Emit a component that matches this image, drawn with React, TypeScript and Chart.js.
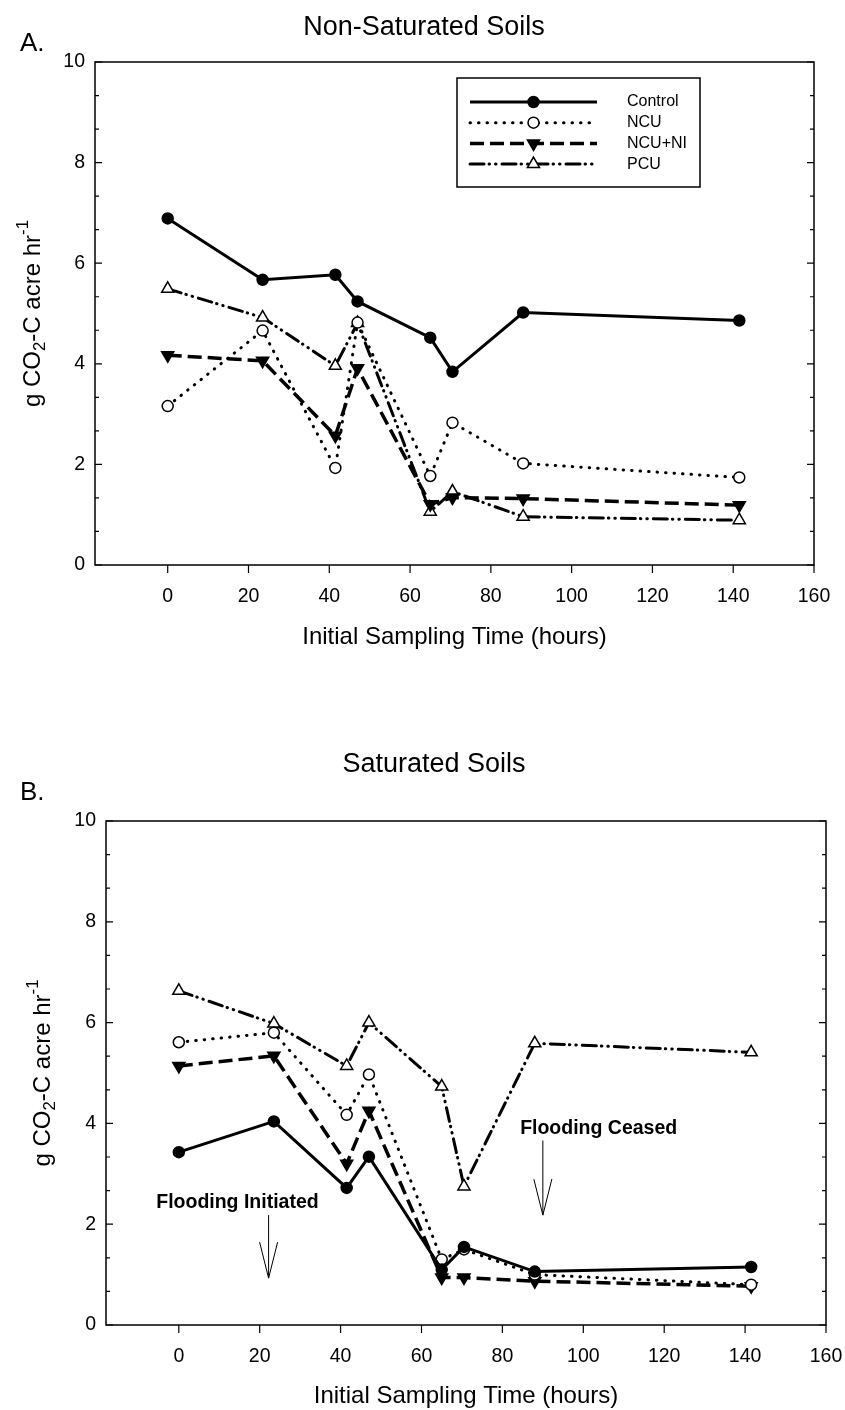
import React, { useEffect, useRef } from "react";
import { Chart, registerables } from "chart.js";
Chart.register(...registerables);

// ---------- data ----------
const seriesLabels = ["Control", "NCU", "NCU+NI", "PCU"];

const timesA = [0, 23.5, 41.5, 47, 65, 70.5, 88, 141.5];
const controlA = [6.89, 5.67, 5.77, 5.24, 4.52, 3.84, 5.02, 4.86];
const ncuA = [3.16, 4.66, 1.93, 4.82, 1.77, 2.83, 2.02, 1.74];
const ncuNiA = [4.17, 4.06, 2.57, 3.91, 1.21, 1.34, 1.32, 1.19];
const pcuA = [5.49, 4.92, 3.96, 4.81, 1.06, 1.46, 0.96, 0.89];

const timesB = [0, 23.5, 41.5, 47, 65, 70.5, 88, 141.5];
const controlB = [3.43, 4.04, 2.72, 3.34, 1.1, 1.55, 1.06, 1.15];
const ncuB = [5.61, 5.8, 4.17, 4.97, 1.3, 1.5, 1.0, 0.8];
const ncuNiB = [5.14, 5.34, 3.2, 4.25, 0.94, 0.94, 0.87, 0.77];
const pcuB = [6.63, 5.98, 5.14, 6.0, 4.73, 2.75, 5.59, 5.41];

const xTicks = [0, 20, 40, 60, 80, 100, 120, 140, 160];
const yTicks = [0, 2, 4, 6, 8, 10];
const xRange = [-18, 160];

const notesB = [
  { text: "Flooding Initiated", x: 14.5, y: 2.43, arrowX: 22.2, arrowTop: 2.18, arrowTip: 0.93 },
  { text: "Flooding Ceased", x: 103.8, y: 3.9, arrowX: 90, arrowTop: 3.66, arrowTip: 2.18 },
];

const FONT = '"Liberation Sans", Arial, Helvetica, sans-serif';

const styles = [
  { borderDash: [], cap: "butt", width: 3, point: "circle", fill: "#000", radius: 5.5, rot: 0 },
  { borderDash: [0.5, 8], cap: "round", width: 3, point: "circle", fill: "#fff", radius: 5.5, rot: 0 },
  { borderDash: [14, 6], cap: "butt", width: 3.5, point: "triangle", fill: "#000", radius: 7, rot: 180 },
  { borderDash: [14, 5, 0.5, 6, 0.5, 6], cap: "round", width: 3, point: "triangle", fill: "#fff", radius: 7, rot: 0 },
];

function makeDatasets(times: number[], series: number[][]) {
  return series.map((vals, i) => {
    const s = styles[i];
    return {
      label: seriesLabels[i],
      data: vals.map((v, j) => ({ x: times[j], y: v })),
      borderColor: "#000",
      borderWidth: s.width,
      borderDash: s.borderDash,
      borderCapStyle: s.cap,
      tension: 0,
      fill: false,
      pointStyle: s.point,
      pointRotation: s.rot,
      pointRadius: s.radius,
      pointHoverRadius: s.radius,
      pointBackgroundColor: s.fill,
      pointBorderColor: "#000",
      pointBorderWidth: 1.5,
    };
  });
}

function drawMarker(ctx: CanvasRenderingContext2D, i: number, x: number, y: number) {
  const s = styles[i];
  ctx.save();
  ctx.setLineDash([]);
  ctx.lineWidth = 1.5;
  ctx.strokeStyle = "#000";
  ctx.fillStyle = s.fill;
  ctx.beginPath();
  if (s.point === "circle") {
    ctx.arc(x, y, s.radius, 0, Math.PI * 2);
  } else {
    let rad = (s.rot * Math.PI) / 180;
    const r = s.radius;
    ctx.moveTo(x + Math.sin(rad) * r, y - Math.cos(rad) * r);
    rad += (2 * Math.PI) / 3;
    ctx.lineTo(x + Math.sin(rad) * r, y - Math.cos(rad) * r);
    rad += (2 * Math.PI) / 3;
    ctx.lineTo(x + Math.sin(rad) * r, y - Math.cos(rad) * r);
    ctx.closePath();
  }
  ctx.fill();
  ctx.stroke();
  ctx.restore();
}

function drawYTitle(ctx: CanvasRenderingContext2D, x: number, cy: number, size: number) {
  const parts = [
    { t: "g CO", s: 1, dy: 0 },
    { t: "2", s: 0.7, dy: 0.32 },
    { t: "-C acre hr", s: 1, dy: 0 },
    { t: "-1", s: 0.7, dy: -0.42 },
  ];
  ctx.save();
  ctx.translate(x, cy);
  ctx.rotate(-Math.PI / 2);
  ctx.fillStyle = "#000";
  ctx.textBaseline = "middle";
  ctx.textAlign = "left";
  const widths = parts.map((p) => {
    ctx.font = `${size * p.s}px ${FONT}`;
    return ctx.measureText(p.t).width;
  });
  const total = widths.reduce((a, b) => a + b, 0);
  let px = -total / 2;
  parts.forEach((p, i) => {
    ctx.font = `${size * p.s}px ${FONT}`;
    ctx.fillText(p.t, px, p.dy * size);
    px += widths[i];
  });
  ctx.restore();
}

type PanelCfg = {
  key: string;
  height: number;
  top: number;
  padTop: number;
  padRight: number;
  yWidth: number;
  xHeight: number;
  letter: string;
  letterPos: [number, number];
  title: string;
  titlePos: [number, number];
  xTitleY: number;
  yTitleX: number;
  legend: boolean;
  notes: typeof notesB;
  times: number[];
  series: number[][];
};

const panels: PanelCfg[] = [
  {
    key: "A", height: 700, top: 0, padTop: 62, padRight: 31, yWidth: 95, xHeight: 135,
    letter: "A.", letterPos: [20, 44], title: "Non-Saturated Soils", titlePos: [424, 28],
    xTitleY: 637, yTitleX: 33, legend: true, notes: [],
    times: timesA, series: [controlA, ncuA, ncuNiA, pcuA],
  },
  {
    key: "B", height: 710, top: 700, padTop: 121, padRight: 19, yWidth: 106, xHeight: 85,
    letter: "B.", letterPos: [20, 93], title: "Saturated Soils", titlePos: [434, 65],
    xTitleY: 696, yTitleX: 43, legend: false, notes: notesB,
    times: timesB, series: [controlB, ncuB, ncuNiB, pcuB],
  },
];

function framePlugin(p: PanelCfg) {
  return {
    id: "frame" + p.key,
    beforeDatasetsDraw(chart: any) {
      const { ctx, chartArea: a, scales } = chart;
      const x = scales.x, y = scales.y;
      ctx.save();
      ctx.strokeStyle = "#000";
      ctx.lineWidth = 1.5;
      ctx.strokeRect(a.left, a.top, a.right - a.left, a.bottom - a.top);
      ctx.lineWidth = 1.2;
      ctx.beginPath();
      for (let k = 0; k < yTicks.length; k++) {
        const v0 = yTicks[k];
        const subs = k < yTicks.length - 1 ? [0, 1 / 3, 2 / 3] : [0];
        const step = k < yTicks.length - 1 ? yTicks[k + 1] - v0 : 0;
        subs.forEach((f, si) => {
          const py = y.getPixelForValue(v0 + f * step);
          const len = si === 0 ? 7 : 4;
          ctx.moveTo(a.left, py);
          ctx.lineTo(a.left + len, py);
          ctx.moveTo(a.right, py);
          ctx.lineTo(a.right - len, py);
        });
      }
      for (const v of xTicks) {
        const px = x.getPixelForValue(v);
        ctx.moveTo(px, a.bottom);
        ctx.lineTo(px, a.bottom + 8);
      }
      ctx.stroke();
      ctx.restore();
    },
    afterDraw(chart: any) {
      const { ctx, chartArea: a, scales } = chart;
      const x = scales.x, y = scales.y;
      ctx.save();
      ctx.fillStyle = "#000";
      ctx.textBaseline = "middle";
      ctx.font = `26px ${FONT}`;
      ctx.textAlign = "left";
      ctx.fillText(p.letter, p.letterPos[0], p.letterPos[1]);
      ctx.font = `27px ${FONT}`;
      ctx.textAlign = "center";
      ctx.fillText(p.title, p.titlePos[0], p.titlePos[1]);
      ctx.font = `24px ${FONT}`;
      ctx.fillText("Initial Sampling Time (hours)", (a.left + a.right) / 2, p.xTitleY);
      drawYTitle(ctx, p.yTitleX, (a.top + a.bottom) / 2, 24);

      if (p.legend) {
        const bx = 457, by = 78, bw = 243, bh = 109;
        ctx.fillStyle = "#fff";
        ctx.fillRect(bx, by, bw, bh);
        ctx.strokeStyle = "#000";
        ctx.lineWidth = 1.5;
        ctx.strokeRect(bx, by, bw, bh);
        chart.data.datasets.forEach((ds: any, i: number) => {
          const ry = 102 + i * 20.7;
          ctx.save();
          ctx.strokeStyle = "#000";
          ctx.lineWidth = ds.borderWidth;
          ctx.setLineDash(ds.borderDash);
          ctx.lineCap = ds.borderCapStyle;
          ctx.beginPath();
          ctx.moveTo(470, ry);
          ctx.lineTo(597, ry);
          ctx.stroke();
          ctx.restore();
          drawMarker(ctx, i, 533.5, ry);
          ctx.fillStyle = "#000";
          ctx.font = `16px ${FONT}`;
          ctx.textAlign = "left";
          ctx.textBaseline = "middle";
          ctx.fillText(ds.label, 627, ry);
        });
      }

      p.notes.forEach((n) => {
        ctx.fillStyle = "#000";
        ctx.font = `bold 19.5px ${FONT}`;
        ctx.textAlign = "center";
        ctx.textBaseline = "middle";
        ctx.fillText(n.text, x.getPixelForValue(n.x), y.getPixelForValue(n.y));
        const ax = x.getPixelForValue(n.arrowX);
        const yTop = y.getPixelForValue(n.arrowTop);
        const yTip = y.getPixelForValue(n.arrowTip);
        ctx.strokeStyle = "#000";
        ctx.lineWidth = 1;
        ctx.beginPath();
        ctx.moveTo(ax, yTop);
        ctx.lineTo(ax, yTip);
        ctx.moveTo(ax - 9, yTip - 36);
        ctx.lineTo(ax, yTip);
        ctx.lineTo(ax + 9, yTip - 36);
        ctx.stroke();
      });
      ctx.restore();
    },
  };
}

function Panel({ cfg }: { cfg: PanelCfg }) {
  const ref = useRef<HTMLCanvasElement>(null);
  useEffect(() => {
    if (!ref.current) return;
    const tickFont = { family: FONT, size: 19.5 };
    const chart = new Chart(ref.current, {
      type: "line",
      data: { datasets: makeDatasets(cfg.times, cfg.series) as any },
      options: {
        animation: false,
        responsive: false,
        devicePixelRatio: 1,
        layout: { padding: { top: cfg.padTop, right: cfg.padRight, left: 0, bottom: 0 } },
        plugins: {
          legend: { display: false },
          tooltip: { enabled: false },
          title: { display: false },
        },
        scales: {
          x: {
            type: "linear",
            min: xRange[0],
            max: xRange[1],
            afterBuildTicks: (s: any) => {
              s.ticks = xTicks.map((v) => ({ value: v }));
            },
            afterFit: (s: any) => {
              s.height = cfg.xHeight;
              s.paddingLeft = 0;
              s.paddingRight = 0;
            },
            grid: { display: false, drawTicks: false },
            border: { display: false },
            ticks: {
              font: tickFont,
              color: "#000",
              padding: 20,
              maxRotation: 0,
              autoSkip: false,
              callback: (v: any) => String(v),
            },
          },
          y: {
            type: "linear",
            min: 0,
            max: 10,
            afterBuildTicks: (s: any) => {
              s.ticks = yTicks.map((v) => ({ value: v }));
            },
            afterFit: (s: any) => {
              s.width = cfg.yWidth;
              s.paddingTop = 0;
              s.paddingBottom = 0;
            },
            grid: { display: false, drawTicks: false },
            border: { display: false },
            ticks: {
              font: tickFont,
              color: "#000",
              padding: 10,
              autoSkip: false,
              callback: (v: any) => String(v),
            },
          },
        },
      },
      plugins: [framePlugin(cfg)],
    } as any);
    return () => chart.destroy();
  }, [cfg]);
  return (
    <canvas
      ref={ref}
      width={845}
      height={cfg.height}
      style={{ position: "absolute", left: 0, top: cfg.top, width: 845, height: cfg.height, display: "block" }}
    />
  );
}

export default function App() {
  return (
    <div style={{ position: "absolute", left: 0, top: 0, width: 845, height: 1410, background: "#fff" }}>
      {panels.map((p) => (
        <Panel key={p.key} cfg={p} />
      ))}
    </div>
  );
}
